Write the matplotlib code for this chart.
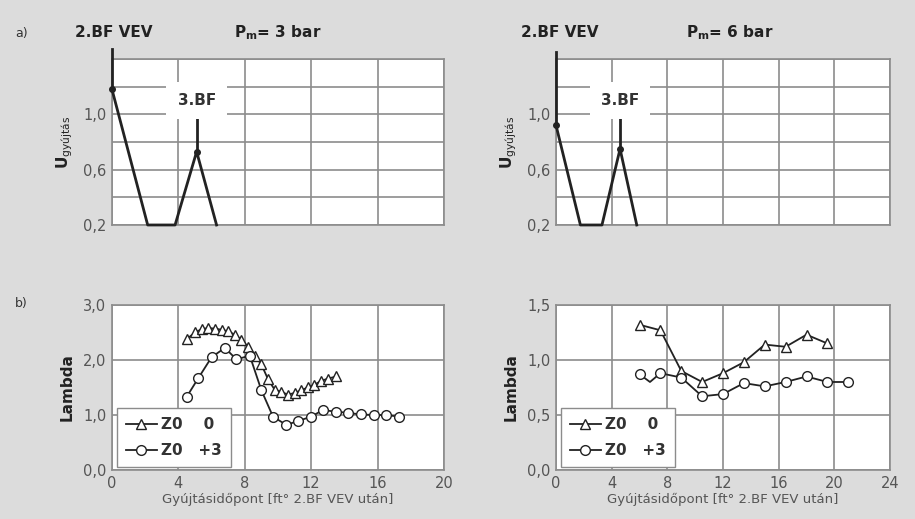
import numpy as np
import matplotlib
matplotlib.use('Agg')
from matplotlib import pyplot as plt

# a) Pm = 3 bar, gyujtas jel
u3_x = [0, 2.15, 3.8, 5.1, 6.3]
u3_y = [1.18, 0.2, 0.2, 0.73, 0.2]
# a) Pm = 6 bar
u6_x = [0, 1.75, 3.3, 4.6, 5.8]
u6_y = [0.92, 0.2, 0.2, 0.75, 0.2]

# b) Pm = 3 bar
l3_z0_x = [4.5, 5.0, 5.4, 5.8, 6.2, 6.6, 7.0, 7.4, 7.8, 8.2, 8.6, 9.0, 9.4, 9.8,
           10.2, 10.6, 11.0, 11.4, 11.8, 12.2, 12.6, 13.0, 13.5]
l3_z0_y = [2.38, 2.50, 2.56, 2.58, 2.57, 2.55, 2.52, 2.46, 2.37, 2.24, 2.08, 1.92, 1.65,
           1.46, 1.42, 1.37, 1.40, 1.45, 1.50, 1.55, 1.62, 1.66, 1.70]
l3_z3_x = [4.5, 5.2, 6.0, 6.8, 7.5, 8.3, 9.0, 9.7, 10.5, 11.2, 12.0, 12.7, 13.5,
           14.2, 15.0, 15.8, 16.5, 17.3]
l3_z3_y = [1.33, 1.67, 2.05, 2.22, 2.01, 2.08, 1.45, 0.97, 0.82, 0.89, 0.97, 1.09, 1.06,
           1.04, 1.01, 1.00, 1.00, 0.97]

# b) Pm = 6 bar
l6_z0_x = [6.0, 7.5, 9.0, 10.5, 12.0, 13.5, 15.0, 16.5, 18.0, 19.5]
l6_z0_y = [1.32, 1.27, 0.90, 0.80, 0.88, 0.98, 1.14, 1.12, 1.23, 1.15]
l6_z3_x = [6.0, 6.75, 7.5, 9.0, 10.5, 12.0, 13.5, 15.0, 16.5, 18.0, 19.5, 21.0]
l6_z3_y = [0.87, 0.80, 0.88, 0.84, 0.67, 0.69, 0.79, 0.76, 0.80, 0.85, 0.80, 0.80]

bg = '#dcdcdc'
gridc = '#8c8c8c'
txtc = '#555555'

fig = plt.figure(figsize=(9.15, 5.19), dpi=100)
fig.patch.set_facecolor(bg)


def style_axes(ax, xmax, ylim, yticks, ylabels, xlabels):
    ax.set_facecolor('white')
    ax.set_xlim(0, xmax)
    ax.set_ylim(*ylim)
    ax.set_xticks(np.arange(0, xmax + 1, 4))
    if xlabels:
        ax.set_xticklabels([str(v) for v in np.arange(0, xmax + 1, 4)])
    else:
        ax.set_xticklabels([])
    ax.set_yticks(yticks)
    ax.set_yticklabels(ylabels)
    ax.tick_params(length=0, labelsize=10.5, labelcolor=txtc, pad=4)
    ax.grid(True, color=gridc, lw=1.2)
    ax.set_axisbelow(True)
    for s in ax.spines.values():
        s.set_color(gridc)
        s.set_linewidth(1.2)


# ---- a) felso sor ----
top_ticks = [0.2, 0.4, 0.6, 0.8, 1.0, 1.2, 1.4]
top_labels = ['0,2', '', '0,6', '', '1,0', '', '']
tops = [(0.1224, 0.3628, 20, u3_x, u3_y, '3 bar', 1.47, 0.98, 0.006, 0.5),
        (0.6077, 0.3650, 24, u6_x, u6_y, '6 bar', 1.45, 0.99, 0.012, 0.52)]
for left, width, xmax, ux, uy, pm, vtop, btop, tx, px in tops:
    ax = fig.add_axes([left, 0.5665, width, 0.3198])
    style_axes(ax, xmax, (0.2, 1.4), top_ticks, top_labels, False)
    ax.plot(ux, uy, color='#222222', lw=2.0, clip_on=False, zorder=3)
    ax.plot([ux[0], ux[0]], [uy[0], vtop], color='#222222', lw=2.0, clip_on=False, zorder=3)
    ax.plot([ux[3], ux[3]], [uy[3], btop], color='#222222', lw=2.0, zorder=3)
    ax.plot([ux[0], ux[3]], [uy[0], uy[3]], 'o', color='#222222', ms=4, clip_on=False, zorder=4)
    ax.text(ux[3], 1.10, '3.BF', ha='center', va='center', fontsize=11, fontweight='bold',
            color='#333333', zorder=5,
            bbox=dict(facecolor='white', edgecolor='none', pad=8))
    ax.text(tx, 1.16, '2.BF VEV', transform=ax.transAxes, ha='center', va='center',
            fontsize=11, fontweight='bold', color='#222222')
    ax.text(px, 1.16, '$\\mathbf{P_m}$= ' + pm, transform=ax.transAxes, ha='center',
            va='center', fontsize=11, fontweight='bold', color='#222222')
    ax.set_ylabel('U$_{\\mathrm{gyújtás}}$', fontsize=11, fontweight='bold', color='#222222',
                  labelpad=6)

# ---- b) also sor ----
bots = [(0.1224, 0.3628, 20, (0, 3.0), [0, 1, 2, 3], ['0,0', '1,0', '2,0', '3,0'],
         l3_z0_x, l3_z0_y, l3_z3_x, l3_z3_y, None),
        (0.6077, 0.3650, 24, (0, 1.5), [0, 0.5, 1.0, 1.5], ['0,0', '0,5', '1,0', '1,5'],
         l6_z0_x, l6_z0_y, l6_z3_x, l6_z3_y, [0] + list(range(2, 12)))]
for left, width, xmax, yl, yt, ytl, ax0, ay0, ax3, ay3, mev in bots:
    ax = fig.add_axes([left, 0.0944, width, 0.318])
    style_axes(ax, xmax, yl, yt, ytl, True)
    ax.plot(ax0, ay0, '-^', color='#222222', lw=1.3, ms=6.5, mfc='white', mew=1.0,
            label='Z0    0', zorder=3)
    ax.plot(ax3, ay3, '-o', color='#222222', lw=1.3, ms=7, mfc='white', mew=1.0,
            markevery=mev, label='Z0   +3', zorder=3)
    leg = ax.legend(loc='lower left', bbox_to_anchor=(0.015, 0.018), borderaxespad=0,
                    fancybox=False, framealpha=1, edgecolor=gridc, handlelength=2.0,
                    handletextpad=0.3, borderpad=0.6, labelspacing=0.7,
                    prop={'size': 11, 'weight': 'bold'})
    for t in leg.get_texts():
        t.set_color('#333333')
    leg.set_zorder(6)
    ax.set_ylabel('Lambda', fontsize=11, fontweight='bold', color='#222222', labelpad=6)
    ax.set_xlabel('Gyújtásidőpont [ft° 2.BF VEV után]', fontsize=9.5, color=txtc, labelpad=2)

fig.text(15 / 915, 1 - 33 / 519, 'a)', fontsize=9, color='#333333', va='center')
fig.text(15 / 915, 1 - 303 / 519, 'b)', fontsize=9, color='#333333', va='center')

fig.savefig('out.png', dpi=100, facecolor=fig.get_facecolor())
